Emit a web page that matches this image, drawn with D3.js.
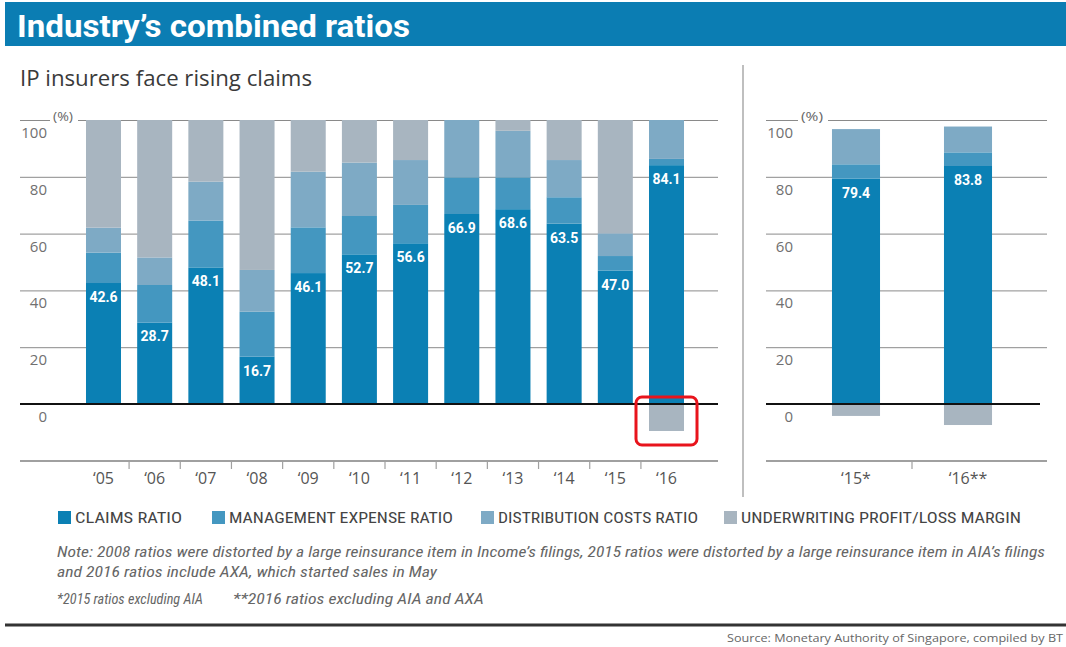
<!DOCTYPE html>
<html>
<head>
<meta charset="utf-8">
<script src="https://cdn.jsdelivr.net/npm/d3@7"></script>
<style>
  body { margin: 0; background: #fff; }
  svg { display: block; }
</style>
</head>
<body>
<svg id="chart"></svg>
<script>
// main panel: 2005-2016
const years   = ["‘05","‘06","‘07","‘08","‘09","‘10","‘11","‘12","‘13","‘14","‘15","‘16"];
const claims  = [42.6, 28.7, 48.1, 16.7, 46.1, 52.7, 56.6, 66.9, 68.6, 63.5, 47.0, 84.1];
const mgmt    = [10.7, 13.2, 16.5, 15.8, 16.1, 13.5, 13.5, 12.9, 11.2,  9.3,  5.1,  2.2];
const dist    = [ 8.8,  9.7, 13.7, 14.7, 19.6, 18.8, 15.8, 20.2, 16.4, 13.1,  8.0, 13.7];
const uw      = [37.9, 48.4, 21.7, 52.8, 18.2, 15.0, 14.1,  0.0,  3.8, 14.1, 39.9, -9.5];

// side panel: excluding AIA / AXA
const yearsEx  = ["‘15*", "‘16**"];
const claimsEx = [79.4, 83.8];
const mgmtEx   = [ 5.0,  4.8];
const distEx   = [12.4,  9.1];
const uwEx     = [-4.2, -7.4];

const yTicks = [0, 20, 40, 60, 80, 100];

const keys = ["claims", "mgmt", "dist", "uw"];
const colors = {claims: "#0b80b4", mgmt: "#4497c0", dist: "#7eaac5", uw: "#a8b5c0"};
const legendLabels = ["CLAIMS RATIO", "MANAGEMENT EXPENSE RATIO", "DISTRIBUTION COSTS RATIO", "UNDERWRITING PROFIT/LOSS MARGIN"];

const width = 1066, height = 647;
const svg = d3.select("#chart").attr("width", width).attr("height", height);

const narrow = "'Liberation Sans Narrow', 'Roboto Condensed', Roboto, sans-serif";
const sans = "'Open Sans', 'Noto Sans', sans-serif";

// header
svg.append("rect").attr("x", 5).attr("y", 2).attr("width", 1061).attr("height", 44).attr("fill", "#0b7db3");
svg.append("text").attr("x", 17).attr("y", 37)
    .attr("font-family", "Roboto, sans-serif").attr("font-weight", 700).attr("font-size", 32)
    .attr("fill", "#fff").attr("textLength", 393).attr("lengthAdjust", "spacingAndGlyphs")
    .text("Industry’s combined ratios");
svg.append("text").attr("x", 20).attr("y", 86)
    .attr("font-family", sans).attr("font-size", 21).attr("fill", "#3a3a3a")
    .attr("textLength", 292).attr("lengthAdjust", "spacingAndGlyphs")
    .text("IP insurers face rising claims");

// divider between panels
svg.append("line").attr("x1", 743).attr("x2", 743).attr("y1", 65).attr("y2", 497)
    .attr("stroke", "#aaa").attr("stroke-width", 1.5);

const yScale = d3.scaleLinear().domain([0, 100]).range([404, 120]);

function panel(cats, cl, mg, di, un, opt) {
    const rows = cats.map((c, i) => ({key: c, claims: cl[i], mgmt: mg[i], dist: di[i], uw: un[i]}));
    const series = d3.stack().keys(keys).offset(d3.stackOffsetDiverging)(rows);

    const xScale = d3.scaleBand()
        .domain(cats)
        .range(opt.range)
        .paddingInner(opt.pi)
        .paddingOuter(opt.po);

    const g = svg.append("g");

    // gridlines
    const grid = g.append("g")
        .attr("transform", `translate(${opt.left},0)`)
        .call(d3.axisRight(yScale).tickValues(yTicks.filter(d => d > 0)).tickSize(opt.right - opt.left).tickFormat(""));
    grid.select(".domain").remove();
    grid.selectAll(".tick line").attr("stroke", "#8a8a8a").attr("stroke-width", 1);

    // gap in the 100 line for the unit
    g.append("rect").attr("x", opt.unitX - 3).attr("y", yScale(100) - 2).attr("width", opt.unitW).attr("height", 4).attr("fill", "#fff");
    g.append("text").attr("x", opt.unitX).attr("y", yScale(100) + 1)
        .attr("font-family", sans).attr("font-size", 13).attr("fill", "#666")
        .attr("textLength", opt.unitW - 8).attr("lengthAdjust", "spacingAndGlyphs")
        .text("(%)");

    g.selectAll(".ylab").data(yTicks).enter().append("text")
        .attr("class", "ylab")
        .attr("x", opt.labelX)
        .attr("y", d => yScale(d) + 12)
        .attr("dominant-baseline", "central")
        .attr("text-anchor", "end")
        .attr("font-family", sans).attr("font-size", 15).attr("fill", "#707070")
        .text(d => d);

    // bars
    g.selectAll(".layer").data(series).enter().append("g")
        .attr("fill", d => colors[d.key])
        .selectAll("rect").data(d => d).enter().append("rect")
        .attr("x", d => xScale(d.data.key))
        .attr("width", xScale.bandwidth())
        .attr("y", d => yScale(Math.max(d[0], d[1])))
        .attr("height", d => Math.abs(yScale(d[0]) - yScale(d[1])));

    // claims labels
    g.selectAll(".val").data(rows).enter().append("text")
        .attr("x", d => xScale(d.key) + xScale.bandwidth() / 2)
        .attr("y", d => yScale(d.claims) + 14)
        .attr("dominant-baseline", "central")
        .attr("text-anchor", "middle")
        .attr("font-family", "Roboto, sans-serif").attr("font-weight", 700).attr("font-size", 14)
        .attr("fill", "#fff")
        .text(d => d3.format(".1f")(d.claims));

    // zero line
    g.append("line").attr("x1", opt.left).attr("x2", opt.zeroRight)
        .attr("y1", yScale(0)).attr("y2", yScale(0))
        .attr("stroke", "#111").attr("stroke-width", 2);

    // category axis
    const axisY = 461;
    g.append("line").attr("x1", opt.left).attr("x2", opt.right).attr("y1", axisY).attr("y2", axisY)
        .attr("stroke", "#a0a0a0").attr("stroke-width", 2);
    const step = xScale.step();
    const sep = cats.slice(1).map(c => xScale(c) - step * opt.pi / 2);
    g.selectAll(".sep").data(sep).enter().append("line")
        .attr("x1", d => d).attr("x2", d => d).attr("y1", axisY).attr("y2", axisY + 8)
        .attr("stroke", "#a0a0a0").attr("stroke-width", 1.2);
    g.selectAll(".xlab").data(cats).enter().append("text")
        .attr("x", d => xScale(d) + xScale.bandwidth() / 2)
        .attr("y", 484)
        .attr("text-anchor", "middle")
        .attr("font-family", sans).attr("font-size", 16).attr("fill", "#555")
        .text(d => d);

    return {xScale, rows};
}

const main = panel(years, claims, mgmt, dist, uw, {
    range: [60.4, 709.6], pi: 0.316, po: 0.5,
    left: 20, right: 718, zeroRight: 718, labelX: 47, unitX: 53, unitW: 28
});
panel(yearsEx, claimsEx, mgmtEx, distEx, uwEx, {
    range: [766, 1058], pi: 0.571, po: 0.589,
    left: 766, right: 1047, zeroRight: 1040, labelX: 793, unitX: 801, unitW: 30
});

// red highlight around the negative 2016 margin
const hx = main.xScale("‘16");
svg.append("rect")
    .attr("x", hx - 13).attr("y", yScale(0) - 7)
    .attr("width", main.xScale.bandwidth() + 26).attr("height", 48)
    .attr("rx", 6)
    .attr("fill", "none").attr("stroke", "#e8141c").attr("stroke-width", 3);

// legend
const legendX = [58, 212, 481, 724];
const legendW = [107, 224, 200, 280];
const legend = svg.append("g");
keys.forEach((k, i) => {
    legend.append("rect").attr("x", legendX[i]).attr("y", 511).attr("width", 13).attr("height", 13).attr("fill", colors[k]);
    legend.append("text").attr("x", legendX[i] + 17).attr("y", 523)
        .attr("font-family", narrow).attr("font-size", 15).attr("fill", "#444")
        .attr("textLength", legendW[i]).attr("lengthAdjust", "spacingAndGlyphs")
        .text(legendLabels[i]);
});

// notes
const notes = [
    {x: 57, y: 557, w: 988, t: "Note: 2008 ratios were distorted by a large reinsurance item in Income’s filings, 2015 ratios were distorted by a large reinsurance item in AIA’s filings"},
    {x: 57, y: 577, w: 380, t: "and 2016 ratios include AXA, which started sales in May"},
    {x: 57, y: 604, w: 146, t: "*2015 ratios excluding AIA"},
    {x: 233, y: 604, w: 251, t: "**2016 ratios excluding AIA and AXA"}
];
svg.selectAll(".note").data(notes).enter().append("text")
    .attr("x", d => d.x).attr("y", d => d.y)
    .attr("font-family", narrow).attr("font-style", "italic").attr("font-size", 15).attr("fill", "#666")
    .attr("textLength", d => d.w).attr("lengthAdjust", "spacingAndGlyphs")
    .text(d => d.t);

svg.append("line").attr("x1", 5).attr("x2", 1066).attr("y1", 625).attr("y2", 625)
    .attr("stroke", "#333").attr("stroke-width", 3);
svg.append("text").attr("x", 1063).attr("y", 642).attr("text-anchor", "end")
    .attr("font-family", sans).attr("font-size", 11).attr("fill", "#666")
    .attr("textLength", 336).attr("lengthAdjust", "spacingAndGlyphs")
    .text("Source: Monetary Authority of Singapore, compiled by BT");
</script>
</body>
</html>
